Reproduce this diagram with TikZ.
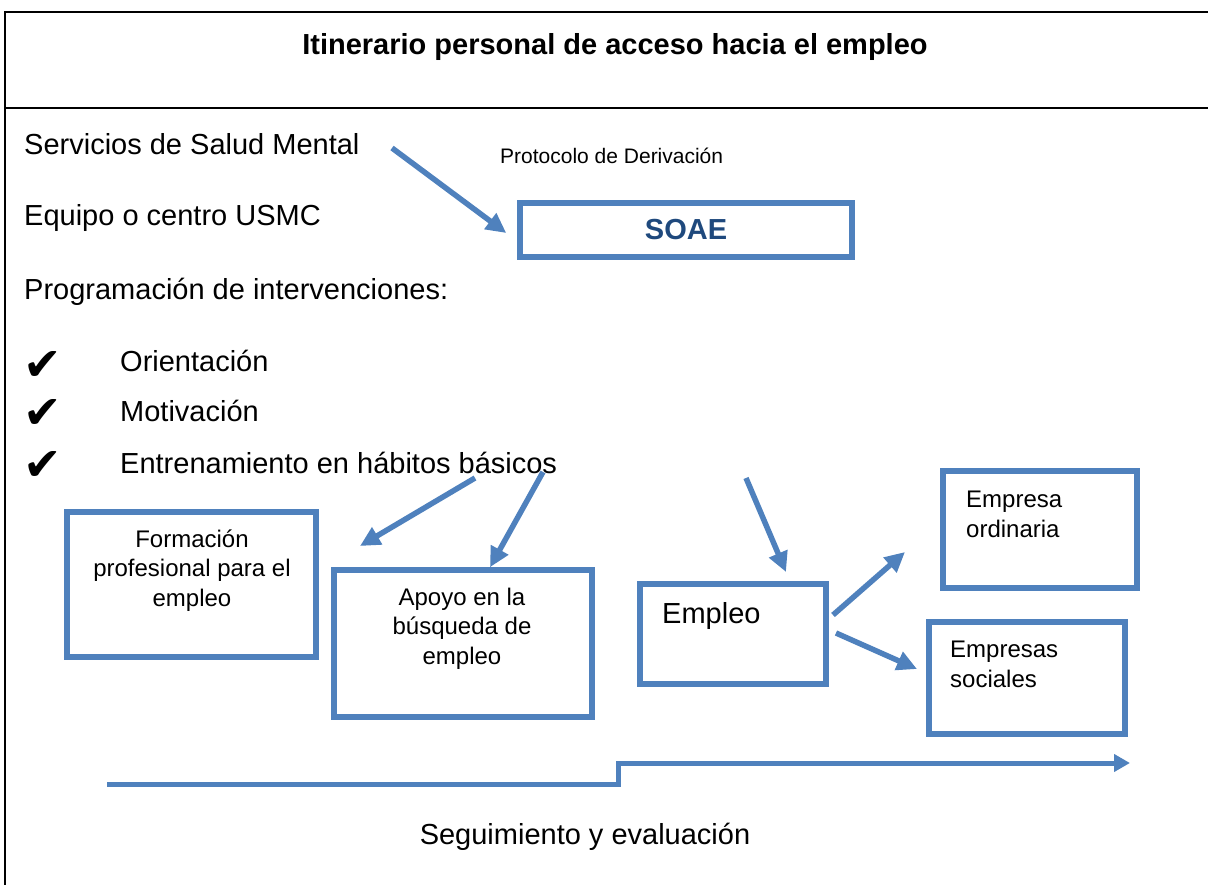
\documentclass[tikz,border=0pt]{standalone}
\usepackage{fontspec}
\setmainfont{Liberation Sans}
\newfontfamily\tickfont{DejaVu Sans}
\usetikzlibrary{arrows.meta,positioning,calc}

\definecolor{boxblue}{RGB}{79,129,189}
\definecolor{soaeblue}{RGB}{31,73,125}

\tikzset{
  box/.style={draw=boxblue, line width=5.5pt, inner sep=0pt},
  flow/.style={draw=boxblue, line width=5.5pt, -{Triangle[length=20pt,width=19pt]}},
  bigtext/.style={font=\fontsize{29}{34}\selectfont, inner sep=0pt},
  titletext/.style={font=\bfseries\fontsize{29}{34}\selectfont, inner sep=0pt},
  smalltext/.style={font=\fontsize{21}{25}\selectfont, inner sep=0pt},
  boxtext/.style={font=\fontsize{24}{29.5}\selectfont, inner sep=0pt},
  ticktext/.style={font=\tickfont\fontsize{46}{50}\selectfont, inner sep=0pt},
}

\begin{document}
\begin{tikzpicture}[x=1pt,y=-1pt]

\useasboundingbox (0,0) rectangle (1208,885);

	% frame of the table
	\draw[line width=2pt] (5,885) -- (5,12) -- (1208,12);
	\draw[line width=2pt] (5,108) -- (1208,108);

	% title row
	\node[titletext, anchor=base] (title) at (615,55) {Itinerario personal de acceso hacia el empleo};

	% left column of texts
	\node[bigtext, anchor=base west] (salud) at (24,155) {Servicios de Salud Mental};
	\node[bigtext, anchor=base west] (usmc) at (24,226) {Equipo o centro USMC};
	\node[bigtext, anchor=base west] (progr) at (24,300) {Programación de intervenciones:};

	% checked list
	\node[bigtext, anchor=base west] (orient) at (120,371) {Orientación};
	\node[bigtext, anchor=base west] (motiv) at (120,421) {Motivación};
	\node[bigtext, anchor=base west] (entren) at (120,473) {Entrenamiento en hábitos básicos};
	\node[ticktext] (tick1) at (43,366) {✔};
	\node[ticktext] (tick2) at (43,414) {✔};
	\node[ticktext] (tick3) at (43,466) {✔};

	% SOAE
	\node[smalltext, anchor=base west] (protocolo) at (500,164) {Protocolo de Derivación};
	\node[box, minimum width=332pt, minimum height=54pt, font=\bfseries\fontsize{29}{34}\selectfont, text=soaeblue] (soae) at (686,230) {SOAE};
	\coordinate (saludout) at (392,148);
	\draw[flow] (saludout) -- ($(soae.west)+(-11,3)$);

	% boxes of the itinerary
	\node[box, minimum width=249pt, minimum height=145pt] (formacion) at (191.5,584.5) {};
	\node[box, minimum width=258pt, minimum height=147pt] (apoyo) at (463,643.5) {};
	\node[box, minimum width=186pt, minimum height=100pt] (empleo) at (733,634) {};
	\node[box, minimum width=194pt, minimum height=117pt] (ordinaria) at (1040,529.5) {};
	\node[box, minimum width=196pt, minimum height=112pt] (sociales) at (1027,678) {};

	% texts inside the boxes (base = last line)
	\node[boxtext, align=center, anchor=base] (formaciontxt) at (192,606) {Formación\\profesional para el\\empleo};
	\node[boxtext, align=center, anchor=base] (apoyotxt) at (462,664) {Apoyo en la\\búsqueda de\\empleo};
	\node[bigtext, anchor=base west] (empleotxt) at (662,623) {Empleo};
	\node[boxtext, align=left, anchor=base west] (ordinariatxt) at (966,537) {Empresa\\ordinaria};
	\node[boxtext, align=left, anchor=base west] (socialestxt) at (950,687) {Empresas\\sociales};

	% arrows between the steps
	\coordinate (entrenA) at (475,478);
	\coordinate (entrenB) at (543,472);
	\coordinate (toform) at (360,546);
	\coordinate (empleoin) at (746,478);
	\coordinate (empleoout1) at (833,615);
	\coordinate (empleoout2) at (836,633);
	\draw[flow] (entrenA) -- (toform);
	\draw[flow] (entrenB) -- (apoyo.north -| 490,0);
	\draw[flow] (empleoin) -- (786,572);
	\draw[flow] (empleoout1) -- (905,552);
	\draw[flow] (empleoout2) -- (917,669);

	% follow-up line
	\coordinate (segstart) at (107,784);
	\coordinate (segend) at (1130,763);
	\draw[draw=boxblue, line width=5pt, -{Triangle[length=16pt,width=17pt]}] (segstart) -- (618,784) -- (618,763) -- (segend);
	\node[bigtext, anchor=base] (seguim) at (585,844) {Seguimiento y evaluación};

\end{tikzpicture}
\end{document}
